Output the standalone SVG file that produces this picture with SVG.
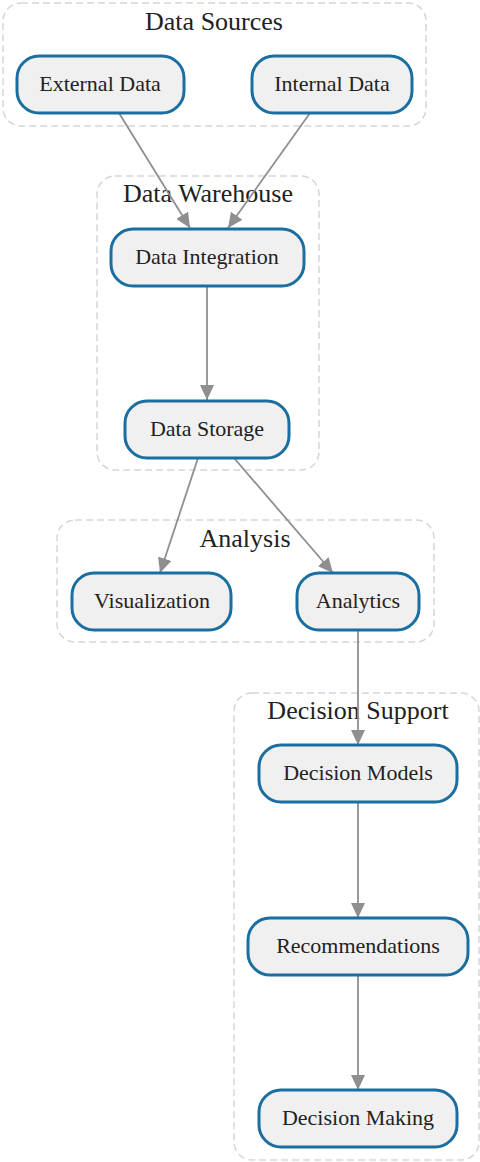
<svg xmlns="http://www.w3.org/2000/svg" width="480" height="1162" viewBox="0 0 480 1162">
<style>
.cluster{fill:none;stroke:#d6d6d6;stroke-width:1.5;stroke-dasharray:7 4}
.ctitle{font-family:'Liberation Serif',serif;font-size:26px;fill:#222;text-anchor:middle}
.node rect{fill:#f0f0f0;stroke:#1a6fa0;stroke-width:3}
.node text{font-family:'Liberation Serif',serif;font-size:22px;fill:#222;text-anchor:middle;dominant-baseline:central}
.edge{fill:none;stroke:#8f8f8f;stroke-width:1.8;marker-end:url(#arr)}
</style>
<defs>
<marker id="arr" markerUnits="userSpaceOnUse" markerWidth="16" markerHeight="14" refX="15" refY="7" orient="auto">
<path d="M0,0 L15,7 L0,14 z" fill="#8f8f8f"/>
</marker>
</defs>
<rect width="480" height="1162" fill="#ffffff"/>
<g id="clusters">
<g id="cluster-sources"><rect class="cluster" x="3" y="3" width="423" height="123" rx="18"/><text class="ctitle" x="214" y="30">Data Sources</text></g>
<g id="cluster-warehouse"><rect class="cluster" x="97" y="176" width="222" height="294" rx="18"/><text class="ctitle" x="208" y="202">Data Warehouse</text></g>
<g id="cluster-analysis"><rect class="cluster" x="57" y="520" width="377" height="122" rx="18"/><text class="ctitle" x="245" y="547">Analysis</text></g>
<g id="cluster-decision"><rect class="cluster" x="234" y="693" width="245" height="467" rx="18"/><text class="ctitle" x="358" y="719">Decision Support</text></g>
</g>
<g id="edges">
<line class="edge" x1="119" y1="113" x2="190" y2="228"/>
<line class="edge" x1="310" y1="113" x2="228" y2="228"/>
<line class="edge" x1="207" y1="286" x2="207" y2="400"/>
<line class="edge" x1="198" y1="458" x2="160" y2="573"/>
<line class="edge" x1="234" y1="458" x2="333" y2="573"/>
<line class="edge" x1="358" y1="630" x2="358" y2="745"/>
<line class="edge" x1="358" y1="803" x2="358" y2="918"/>
<line class="edge" x1="358" y1="975" x2="358" y2="1090"/>
</g>
<g id="node-external" class="node"><rect x="17" y="56" width="167" height="57" rx="22"/><text x="100" y="83">External Data</text></g>
<g id="node-internal" class="node"><rect x="252" y="56" width="160" height="57" rx="22"/><text x="332" y="83">Internal Data</text></g>
<g id="node-integration" class="node"><rect x="111" y="229" width="193" height="57" rx="22"/><text x="207" y="256">Data Integration</text></g>
<g id="node-storage" class="node"><rect x="125" y="401" width="164" height="57" rx="22"/><text x="207" y="428">Data Storage</text></g>
<g id="node-visualization" class="node"><rect x="72" y="573" width="159" height="57" rx="22"/><text x="152" y="600">Visualization</text></g>
<g id="node-analytics" class="node"><rect x="297" y="573" width="122" height="57" rx="22"/><text x="358" y="600">Analytics</text></g>
<g id="node-models" class="node"><rect x="259" y="745" width="198" height="57" rx="22"/><text x="358" y="772">Decision Models</text></g>
<g id="node-recommendations" class="node"><rect x="248" y="918" width="220" height="57" rx="22"/><text x="358" y="945">Recommendations</text></g>
<g id="node-making" class="node"><rect x="259" y="1090" width="198" height="57" rx="22"/><text x="358" y="1117">Decision Making</text></g>
</svg>
